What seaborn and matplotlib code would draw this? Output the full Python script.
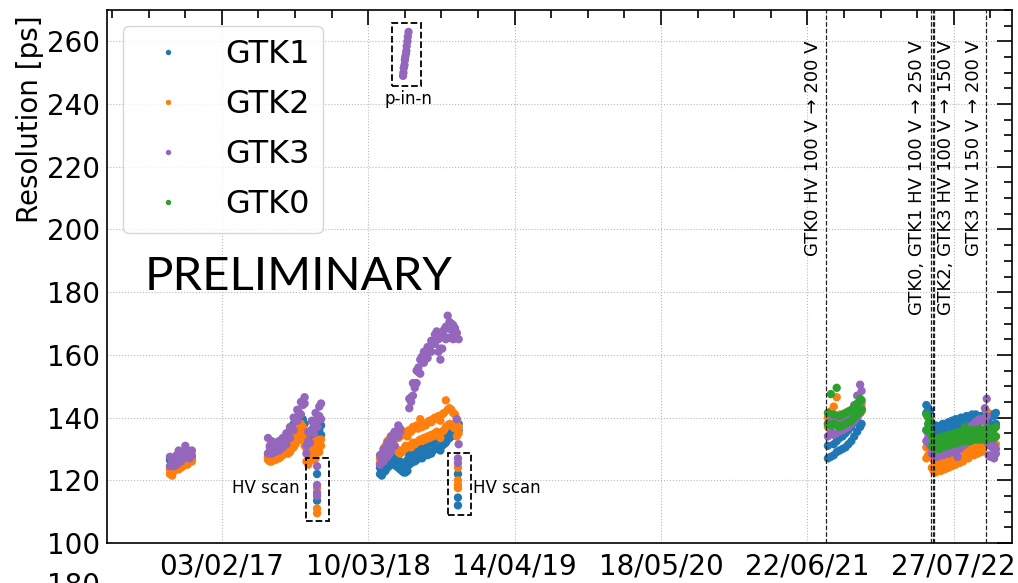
import numpy as np
import pandas as pd
import seaborn as sns
import matplotlib.pyplot as plt
import matplotlib.dates as mdates
from matplotlib.patches import Rectangle
from matplotlib.ticker import MultipleLocator

# ---- data (two runs per day where the band is wide) ----
order = ['GTK1', 'GTK2', 'GTK3', 'GTK0']
palette = {'GTK1': '#1f77b4', 'GTK2': '#ff7f0e', 'GTK3': '#9467bd', 'GTK0': '#2ca02c'}

# run 2016
c1_start = '2016-09-14'
c1_days = [0, 6, 12, 18, 24, 30, 36, 42, 48, 54, 60]
c1_gtk1 = [126.5, 126.0, 125.5, 125.5, 126.0, 126.0, 126.5, 127.0, 127.5, 128.0, 127.5]
c1_gtk2_a = [122.0, 121.5, 123.0, 123.5, 123.5, 124.0, 124.5, 125.5, 125.0, 126.0, 126.5]
c1_gtk2_b = [123.5, 123.0, 124.0, 124.5, 125.0, 125.5, 125.0, 126.0, 126.5, 127.0, 126.0]
c1_gtk3_a = [124.5, 125.5, 126.5, 125.0, 129.5, 126.0, 127.0, 131.0, 127.5, 128.5, 128.0]
c1_gtk3_b = [127.5, 127.0, 124.5, 128.0, 126.5, 127.5, 129.0, 127.5, 129.5, 127.0, 129.5]

# run 2017
c2_start = '2017-06-09'
c2_days = [0, 5, 10, 15, 20, 25, 30, 35, 40, 45, 50, 55, 60, 65, 70,
           75, 80, 85, 90, 95, 100, 105, 110, 115, 120, 125, 130, 135, 140, 145]
c2_gtk1_a = [127.5, 127.5, 127.5, 128.0, 128.0, 128.5, 129.0, 129.5, 130.0, 131.0,
             132.0, 133.0, 134.0, 135.0, 136.0, 137.0, 137.5, 138.5, 139.0, 139.5,
             138.0, 132.5, 134.0, 135.5, 136.0, 137.0, 137.5, 138.0, 138.5, 137.5]
c2_gtk1_b = [128.5, 129.0, 128.5, 129.0, 129.5, 130.0, 130.5, 131.0, 132.0, 133.0,
             134.0, 135.0, 136.0, 137.0, 138.0, 139.0, 140.0, 140.5, 140.0, 138.5,
             135.5, 134.0, 133.0, 133.5, 134.5, 135.0, 134.0, 135.5, 136.0, 134.5]
c2_gtk2_a = [126.5, 126.0, 126.0, 126.5, 126.5, 127.0, 127.0, 127.5, 128.0, 128.5,
             129.0, 130.0, 131.0, 132.0, 133.0, 134.0, 135.5, 137.0, 138.0, 137.0,
             133.0, 126.0, 125.0, 127.0, 129.0, 131.0, 132.5, 130.0, 132.0, 131.0]
c2_gtk2_b = [127.5, 127.5, 127.0, 127.5, 128.0, 128.0, 128.5, 129.0, 129.0, 129.5,
             130.0, 128.5, 129.0, 130.0, 130.5, 131.5, 132.5, 133.0, 134.5, 135.0,
             131.0, 130.0, 128.0, 132.0, 126.5, 128.0, 127.0, 133.0, 129.0, 133.0]
c2_gtk3_a = [128.5, 130.5, 128.5, 130.0, 129.0, 130.5, 129.5, 131.5, 130.5, 132.5,
             131.5, 134.0, 133.5, 136.5, 136.0, 139.0, 139.0, 141.5, 141.0, 144.0,
             144.5, 128.5, 132.5, 132.0, 136.0, 135.0, 138.5, 137.0, 140.5, 139.5]
c2_gtk3_b = [133.5, 131.0, 132.5, 130.5, 132.0, 131.0, 132.5, 131.5, 133.5, 133.0,
             135.0, 134.5, 137.0, 136.5, 140.0, 139.5, 142.5, 141.5, 145.0, 144.5,
             146.5, 131.0, 135.5, 135.0, 139.0, 138.0, 141.5, 140.0, 143.5, 144.5]

# HV scan 2017
hv1_date = '2017-10-21'
hv1_gtk1 = [122.0, 113.5]
hv1_gtk2 = [117.5, 111.0, 109.5]
hv1_gtk3 = [124.5, 118.5, 116.0, 115.0]

# run 2018
nan = np.nan
c3_start = '2018-04-11'
c3_days = [0, 5, 10, 15, 20, 25, 30, 35, 40, 45, 50, 55, 60, 65, 70, 75, 80, 85, 90, 95,
           100, 105, 110, 115, 120, 125, 130, 135, 140, 145, 150, 155, 160, 165, 170,
           175, 180, 185, 190, 195, 200, 205, 210, 215]
c3_gtk1_a = [122.0, 121.5, 122.5, 123.0, 124.0, 124.5, 125.0, 125.5, 125.0, 124.5,
             124.0, 123.5, 123.0, 122.5, 122.5, 123.0, 125.0, 125.5, 126.0, 126.0,
             126.5, 127.0, 127.5, 127.0, 128.0, 128.5, 128.0, 129.0, 128.5, 129.5,
             130.0, 130.5, 130.0, 129.5, 131.0, 131.5, 132.0, 133.0, 133.5, 134.0,
             134.5, 135.0, 135.0, 136.0]
c3_gtk1_b = [124.0, 124.5, 125.0, 126.0, 126.5, 127.0, 127.5, 128.0, 128.5, 127.0,
             126.5, 126.0, 125.5, 125.0, 125.5, 126.5, 128.0, 128.0, 128.5, 129.0,
             129.5, 129.5, 130.0, 130.5, 131.0, 131.0, 131.5, 132.0, 132.0, 132.5,
             133.0, 133.5, 133.0, 133.5, 134.0, 134.5, 135.5, 136.0, 137.0, 137.0,
             137.5, 138.0, 137.5, 138.0]
c3_gtk2_a = [125.5, 126.0, 127.0, 128.0, 129.0, 128.5, 129.5, 130.0, 131.0, 130.0,
             129.0, 128.5, 129.0, 130.0, 131.0, 130.5, 131.0, 130.5, 132.0, 131.5,
             132.0, 132.5, 133.0, 132.5, 133.5, 133.0, 134.0, 133.5, 134.5, 134.0,
             135.0, 135.5, 134.5, 133.5, 135.5, 136.0, 137.0, 137.5, 138.0, 137.5,
             137.0, 136.5, 134.0, 135.0]
c3_gtk2_b = [127.0, 128.5, 130.0, 131.0, 132.5, 133.0, 134.0, 134.5, 135.0, 134.0,
             133.5, 134.0, 135.0, 134.5, 135.5, 134.0, 136.0, 135.5, 137.0, 136.5,
             137.5, 136.5, 139.5, 137.0, 138.0, 137.5, 138.5, 139.0, 138.5, 139.5,
             140.0, 139.5, 140.5, 139.0, 141.0, 141.5, 145.5, 142.5, 143.0, 142.5,
             141.5, 141.0, 139.0, 137.0]
c3_gtk3_a = [125.0, 126.5, 126.0, 128.0, 127.5, 129.5, 129.0, 132.0, 131.0, 134.0,
             134.0, 135.5, nan, nan, nan, nan,
             143.0, 146.5, 147.0, 150.5, 151.0, 154.5, 154.0, 158.0, 157.5, 160.0,
             159.0, 161.5, 161.0, 163.5, 163.5, 165.5, 161.0, 158.5, 162.0, 166.0,
             165.0, 168.5, 165.5, 168.0, 165.0, 166.5, 139.5, 131.5]
c3_gtk3_b = [128.0, 127.0, 130.0, 129.0, 132.0, 131.0, 134.0, 133.5, 135.5, 135.5,
             137.5, 136.5, nan, nan, nan, nan,
             146.0, 145.0, 151.0, 149.5, 155.0, 156.0, 158.5, 159.5, 161.0, 161.0,
             162.5, 162.5, 164.5, 164.5, 166.5, 167.5, 165.0, 162.0, 166.0, 168.0,
             169.0, 172.5, 170.5, 170.0, 169.5, 168.5, 167.0, 165.0]

# p-in-n sensor 2018
pin_start = '2018-06-13'
pin_days = [0, 1, 2, 4, 5, 6, 8, 9, 10, 12, 13, 15]
pin_gtk3 = [249.0, 250.0, 251.5, 252.5, 254.0, 255.0, 256.0, 257.0, 258.5, 260.0, 261.5, 263.0]

# HV scan 2018
hv2_date = '2018-11-10'
hv2_gtk1 = [122.0, 114.5, 112.0]
hv2_gtk2 = [124.0, 120.0, 118.5, 117.5]
hv2_gtk3 = [127.0, 125.5]

# run 2021
c4_start = '2021-08-17'
c4_days = [0, 8, 16, 24, 32, 40, 48, 56, 64, 72, 80, 88, 92]
c4_gtk1_a = [127.0, 127.5, 128.0, 129.0, 129.5, 130.0, 130.5, 131.5, 132.5, 134.0, 135.5, 137.0, 138.0]
c4_gtk1_b = [131.0, 135.5, 131.5, 132.5, 133.5, 134.0, 135.0, 136.0, 137.0, 138.5, 140.0, 141.5, 142.5]
c4_gtk2_a = [137.0, 138.5, 139.0, 138.0, 137.5, 137.0, 137.5, 138.0, 138.5, 139.5, 140.5, 141.5, 142.0]
c4_gtk2_b = [140.0, 142.0, 143.5, 146.5, 141.0, 140.5, 141.0, 141.5, 142.0, 143.0, 144.0, 145.0, 144.5]
c4_gtk3_a = [134.0, 135.0, 134.5, 135.0, 135.5, 136.0, 136.5, 137.0, 138.0, 139.0, 140.0, 141.5, 143.0]
c4_gtk3_b = [138.0, 139.0, 138.0, 139.0, 138.5, 139.5, 140.0, 141.0, 142.0, 144.0, 147.0, 150.5, 148.5]
c4_gtk0_a = [138.0, 137.5, 138.0, 137.5, 137.0, 137.5, 138.0, 138.5, 139.0, 140.0, 141.0, 142.0, 142.5]
c4_gtk0_b = [141.5, 147.5, 141.0, 149.5, 140.5, 141.0, 141.5, 142.0, 142.5, 143.5, 144.5, 146.0, 145.5]

# run 2022
c5_start = '2022-05-13'
c5_days = [0, 5, 10, 15, 20, 25, 30, 35, 40, 45, 50, 55, 60, 65, 70, 75, 80, 85, 90, 95,
           100, 105, 110, 115, 120, 125, 130, 135, 140, 145, 150, 155, 160, 165, 170,
           175, 180, 185, 190]
c5_gtk1_a = [141.5, 140.5, 139.0, 135.0, 134.0, 134.5, 134.0, 134.5, 135.0, 134.5,
             135.0, 135.5, 135.0, 135.5, 136.0, 136.5, 136.0, 136.5, 137.0, 136.5,
             137.0, 137.5, 137.0, 137.5, 138.0, 137.5, 138.0, 138.0, 137.5, 137.0,
             137.5, 137.0, 137.5, 138.0, 137.5, 138.0, 137.0, 136.5, 138.0]
c5_gtk1_b = [144.0, 143.0, 142.0, 138.0, 137.0, 137.5, 136.5, 137.0, 137.5, 138.0,
             137.5, 138.0, 138.5, 138.0, 139.0, 138.5, 139.5, 139.0, 139.5, 140.0,
             139.5, 140.0, 140.5, 140.0, 140.5, 141.0, 140.5, 141.0, 140.5, 140.0,
             140.5, 140.0, 141.0, 140.5, 141.0, 140.5, 141.0, 140.5, 141.5]
c5_gtk2_a = [127.0, 128.0, 127.5, 124.0, 123.0, 122.5, 123.0, 123.5, 123.0, 124.0,
             123.5, 124.5, 124.0, 125.0, 124.5, 125.5, 125.0, 126.0, 125.5, 126.5,
             126.0, 127.0, 127.5, 127.0, 128.0, 128.5, 128.0, 129.0, 128.5, 129.5,
             129.0, 130.0, 131.0, 133.0, 132.0, 131.5, 131.0, 132.0, 131.5]
c5_gtk2_b = [130.5, 131.0, 130.0, 128.0, 126.5, 126.0, 125.5, 126.5, 126.0, 126.5,
             127.0, 127.5, 127.0, 128.0, 128.5, 128.0, 129.0, 128.5, 129.5, 129.0,
             130.0, 129.5, 130.5, 130.0, 131.0, 130.5, 131.5, 131.0, 132.0, 131.5,
             132.5, 132.0, 137.0, 142.0, 135.0, 134.5, 135.0, 136.5, 134.0]
c5_gtk3_a = [132.5, 133.5, 131.0, 128.5, 128.0, 128.5, 127.5, 128.0, 128.5, 128.0,
             128.5, 129.0, 128.5, 129.0, 129.5, 129.0, 129.5, 127.5, 130.0, 130.5,
             131.0, 131.5, 132.0, 132.5, 133.0, 133.5, 134.0, 134.5, 135.0, 135.5,
             135.0, 136.0, 139.0, 140.5, 128.0, 127.5, 128.0, 127.0, 128.5]
c5_gtk3_b = [136.0, 135.0, 134.5, 132.0, 131.5, 131.0, 131.5, 131.0, 132.0, 131.5,
             132.0, 131.5, 132.5, 132.0, 132.5, 133.0, 132.5, 133.5, 133.0, 134.0,
             134.5, 135.0, 135.5, 136.0, 137.0, 137.5, 138.0, 138.5, 139.0, 139.5,
             139.0, 139.5, 143.0, 146.0, 131.5, 131.0, 130.5, 131.0, 130.0]
c5_gtk0_a = [136.0, 138.0, 135.5, 131.0, 130.5, 130.0, 130.5, 130.0, 131.0, 130.5,
             131.0, 131.5, 131.0, 131.5, 132.0, 131.5, 132.0, 132.5, 132.0, 132.5,
             132.5, 133.0, 132.5, 133.0, 132.5, 133.0, 133.5, 133.0, 133.5, 133.0,
             133.5, 133.0, 133.5, 133.0, 134.0, 133.5, 134.0, 133.5, 134.0]
c5_gtk0_b = [141.0, 140.0, 139.0, 134.0, 133.5, 133.0, 132.5, 133.5, 133.0, 134.0,
             133.5, 134.0, 134.5, 134.0, 134.5, 135.0, 134.5, 135.0, 135.5, 135.0,
             135.5, 137.0, 135.5, 135.0, 135.5, 136.0, 135.5, 136.0, 135.5, 136.0,
             136.0, 135.5, 136.0, 136.5, 136.0, 136.5, 136.0, 136.5, 137.0]

# annotations
hv_lines = ['2021-08-11', '2022-05-27', '2022-05-31', '2022-06-04', '2022-10-23']
hv_texts = [('2021-07-07', 'GTK0 HV 100 V → 200 V'),
            ('2022-04-18', 'GTK0, GTK1 HV 100 V → 250 V'),
            ('2022-07-05', 'GTK2, GTK3 HV 100 V → 150 V'),
            ('2022-09-21', 'GTK3 HV 150 V → 200 V')]
boxes = [('2017-09-21', '2017-11-23', 107.0, 127.2),
         ('2018-10-13', '2018-12-17', 109.0, 128.8),
         ('2018-05-13', '2018-07-31', 245.8, 266.0)]

# ---- build long table ----
rows = []


def add(name, start, days, *runs):
    t0 = pd.Timestamp(start)
    for run in runs:
        for d, v in zip(days, run):
            if not np.isnan(v):
                rows.append({'date': t0 + pd.Timedelta(days=d), 'res': v, 'gtk': name})


add('GTK1', c1_start, c1_days, c1_gtk1)
add('GTK1', c2_start, c2_days, c2_gtk1_a, c2_gtk1_b)
add('GTK1', hv1_date, [0] * len(hv1_gtk1), hv1_gtk1)
add('GTK1', c3_start, c3_days, c3_gtk1_a, c3_gtk1_b)
add('GTK1', hv2_date, [0] * len(hv2_gtk1), hv2_gtk1)
add('GTK1', c4_start, c4_days, c4_gtk1_a, c4_gtk1_b)
add('GTK1', c5_start, c5_days, c5_gtk1_a, c5_gtk1_b)

add('GTK2', c1_start, c1_days, c1_gtk2_a, c1_gtk2_b)
add('GTK2', c2_start, c2_days, c2_gtk2_a, c2_gtk2_b)
add('GTK2', hv1_date, [0] * len(hv1_gtk2), hv1_gtk2)
add('GTK2', c3_start, c3_days, c3_gtk2_a, c3_gtk2_b)
add('GTK2', hv2_date, [0] * len(hv2_gtk2), hv2_gtk2)
add('GTK2', c4_start, c4_days, c4_gtk2_a, c4_gtk2_b)
add('GTK2', c5_start, c5_days, c5_gtk2_a, c5_gtk2_b)

add('GTK3', c1_start, c1_days, c1_gtk3_a, c1_gtk3_b)
add('GTK3', c2_start, c2_days, c2_gtk3_a, c2_gtk3_b)
add('GTK3', hv1_date, [0] * len(hv1_gtk3), hv1_gtk3)
add('GTK3', c3_start, c3_days, c3_gtk3_a, c3_gtk3_b)
add('GTK3', pin_start, pin_days, pin_gtk3)
add('GTK3', hv2_date, [0] * len(hv2_gtk3), hv2_gtk3)
add('GTK3', c4_start, c4_days, c4_gtk3_a, c4_gtk3_b)
add('GTK3', c5_start, c5_days, c5_gtk3_a, c5_gtk3_b)

add('GTK0', c4_start, c4_days, c4_gtk0_a, c4_gtk0_b)
add('GTK0', c5_start, c5_days, c5_gtk0_a, c5_gtk0_b)

df = pd.DataFrame(rows)

# ---- plot ----
sns.set_theme(style='white', rc={'axes.edgecolor': 'black', 'text.color': 'black',
                                 'xtick.color': 'black', 'ytick.color': 'black'})
plt.rcParams['font.family'] = ['DejaVu Sans']

fig = plt.figure(figsize=(10.18, 5.83), dpi=100)
ax = fig.add_axes([0.1051, 0.0686, 0.8890, 0.9142])

sns.scatterplot(data=df, x='date', y='res', hue='gtk', hue_order=order,
                palette=palette, s=36, linewidth=0, ax=ax)

for d in hv_lines:
    ax.axvline(pd.Timestamp(d), color='#222222', ls='--', lw=0.9, zorder=1)
for d, txt in hv_texts:
    ax.text(pd.Timestamp(d), 260.3, txt, rotation=90, ha='center', va='top', fontsize=13)

for x0, x1, y0, y1 in boxes:
    a = mdates.date2num(pd.Timestamp(x0))
    b = mdates.date2num(pd.Timestamp(x1))
    ax.add_patch(Rectangle((a, y0), b - a, y1 - y0, fill=False, ec='black', ls='--', lw=1.3))

ax.text(pd.Timestamp('2017-09-04'), 117.5, 'HV scan', ha='right', va='center', fontsize=12)
ax.text(pd.Timestamp('2018-12-20'), 117.5, 'HV scan', ha='left', va='center', fontsize=12)
ax.text(pd.Timestamp('2018-06-28'), 244.5, 'p-in-n', ha='center', va='top', fontsize=12)

ax.text(0.042, 0.475, 'PRELIMINARY', transform=ax.transAxes, fontsize=34,
        family=['Lato', 'DejaVu Sans'], fontweight='normal', ha='left', va='baseline')

ax.set_xlim(16886, 19359)
ax.set_ylim(100, 270)
ax.xaxis.set_major_locator(MultipleLocator(400))
ax.xaxis.set_minor_locator(MultipleLocator(100))
ax.xaxis.set_major_formatter(mdates.DateFormatter('%d/%m/%y'))
ax.yaxis.set_major_locator(MultipleLocator(20))
ax.yaxis.set_minor_locator(MultipleLocator(5))
ax.tick_params(which='both', direction='in', top=True, right=True, width=1.2)
ax.tick_params(which='major', length=10.5, labelsize=20)
ax.tick_params(which='minor', length=5.5)
ax.tick_params(axis='x', which='major', pad=7)
ax.tick_params(axis='y', which='major', pad=5)
ax.grid(True, which='major', ls=':', lw=0.8, color='#b8b8b8')
for sp in ax.spines.values():
    sp.set_linewidth(1.2)
ax.set_xlabel('')
ax.set_ylabel('')

leg = ax.get_legend()
handles = leg.legend_handles
labels = [t.get_text() for t in leg.get_texts()]
ax.legend(handles, labels, loc='upper left', fontsize=23, markerscale=0.65,
          labelspacing=0.6, frameon=True, framealpha=0.8, edgecolor='#cccccc',
          fancybox=True)

fig.text(30 / 1018, 1 - 119 / 583, 'Resolution [ps]', rotation=90, ha='center',
         va='center', fontsize=20)
# tick label of the panel below, cut by the frame
fig.text(100 / 1018, 0.019, '180', ha='right', va='top', fontsize=20)

fig.savefig('out.png', dpi=100)
